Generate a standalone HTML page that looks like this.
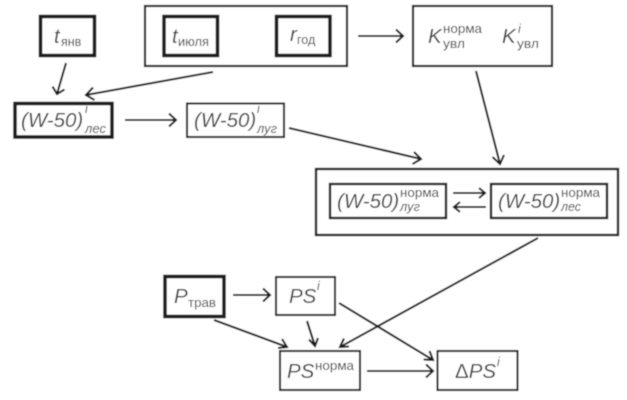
<!DOCTYPE html>
<html>
<head>
<meta charset="utf-8">
<style>
html,body{margin:0;padding:0;background:#fff;}
svg{display:block;}
text{font-family:"Liberation Sans",sans-serif;fill:#3c3c3c;}
.m{font-size:20.5px;font-style:italic;}
.s{font-size:12.5px;}
.si{font-size:12.5px;font-style:italic;}
.b{fill:none;stroke:#1e1e1e;}
.a{fill:none;stroke:#1e1e1e;stroke-width:2.1;}
</style>
</head>
<body>
<svg width="627" height="400" viewBox="0 0 627 400" xmlns="http://www.w3.org/2000/svg">
<defs><filter id="bl" x="0" y="0" width="100%" height="100%"><feGaussianBlur stdDeviation="0.55"/></filter></defs>
<g filter="url(#bl)">
<rect x="0" y="0" width="627" height="400" fill="#fff"/>

<!-- boxes -->
<rect class="b" stroke-width="3.6" x="40.500" y="16.500" width="54" height="39"/>
<rect class="b" stroke-width="2.2" x="145" y="6" width="202" height="60"/>
<rect class="b" stroke-width="3.6" x="164" y="16.500" width="53.500" height="39"/>
<rect class="b" stroke-width="3.6" x="276.500" y="16.500" width="53.500" height="39"/>
<rect class="b" stroke-width="2.2" x="413" y="6" width="139" height="60"/>
<rect class="b" stroke-width="3.6" x="15" y="103.500" width="97" height="33.500"/>
<rect class="b" stroke-width="2.1" x="187" y="103.500" width="97" height="33.500"/>
<rect class="b" stroke-width="2.4" x="316" y="169" width="302" height="66"/>
<rect class="b" stroke-width="2.4" x="330" y="184" width="116" height="34"/>
<rect class="b" stroke-width="2.4" x="491" y="184" width="116" height="34"/>
<rect class="b" stroke-width="3.6" x="165" y="276.500" width="59" height="40"/>
<rect class="b" stroke-width="2.1" x="276" y="277" width="59" height="38"/>
<rect class="b" stroke-width="2.1" x="280" y="351" width="80" height="39"/>
<rect class="b" stroke-width="2.1" x="437.500" y="351" width="80" height="39"/>

<!-- arrows -->
<path class="a" d="M66 63L57 94M52.500 86.500L57 94L64.500 89.500"/>
<path class="a" d="M213 72L86 95M93 87.500L86 95L94.500 100"/>
<path class="a" d="M125 120H176M169 113.500L176 120L169 126.500"/>
<path class="a" d="M289 128L421 159M414 152L421 159L412.500 164"/>
<path class="a" d="M358 36H403M396 29.500L403 36L396 42.500"/>
<path class="a" d="M476 71L500 164M492.500 157L500 164L504 155"/>
<path class="a" d="M453 193H485M479 188L485 193L479 198"/>
<path class="a" d="M486 207H454M460 202L454 207L460 212"/>
<path class="a" d="M538 238L340 347M349 346.500L340 347L344 338.500"/>
<path class="a" d="M233 295H270M263 288.500L270 295L263 301.500"/>
<path class="a" d="M307 321L315 346M309 339.500L315 346L318 338"/>
<path class="a" d="M214 320L287 347M278 348L287 347L282 339"/>
<path class="a" d="M339 303L433 360M423.500 359.500L433 360L429.500 351"/>
<path class="a" d="M367 371H433M426 364.500L433 371L426 377.500"/>

<!-- labels -->
<text class="m" x="54" y="43">t</text><text class="s" x="61" y="46">янв</text>
<text class="m" x="172" y="43">t</text><text class="s" x="178" y="46" textLength="31" lengthAdjust="spacingAndGlyphs">июля</text>
<text class="m" x="290" y="41">r</text><text class="s" x="297" y="44">год</text>

<text class="m" x="428" y="43">K</text>
<text class="s" x="443" y="33" textLength="39" lengthAdjust="spacingAndGlyphs">норма</text><text class="s" x="443" y="48" textLength="22" lengthAdjust="spacingAndGlyphs">увл</text>
<text class="m" x="502" y="43">K</text>
<text class="si" x="518" y="33">i</text><text class="s" x="517" y="48" textLength="22" lengthAdjust="spacingAndGlyphs">увл</text>

<text class="m" x="21" y="127">(W-50)</text>
<text class="si" x="85" y="113">i</text><text class="si" x="85" y="133" textLength="21" lengthAdjust="spacingAndGlyphs">лес</text>
<text class="m" x="194" y="127">(W-50)</text>
<text class="si" x="257" y="113">i</text><text class="si" x="257" y="133" textLength="20" lengthAdjust="spacingAndGlyphs">луг</text>

<text class="m" x="337" y="208">(W-50)</text>
<text class="s" x="400" y="197" textLength="39" lengthAdjust="spacingAndGlyphs">норма</text><text class="si" x="400" y="211" textLength="20" lengthAdjust="spacingAndGlyphs">луг</text>
<text class="m" x="498" y="208">(W-50)</text>
<text class="s" x="561" y="197" textLength="39" lengthAdjust="spacingAndGlyphs">норма</text><text class="si" x="561" y="211" textLength="20" lengthAdjust="spacingAndGlyphs">лес</text>

<text class="m" x="174" y="303">P</text><text class="s" x="188" y="307" textLength="28" lengthAdjust="spacingAndGlyphs">трав</text>
<text class="m" x="289" y="303">PS</text><text class="si" x="317" y="290">i</text>
<text class="m" x="287" y="378">PS</text><text class="s" x="315" y="370" textLength="39" lengthAdjust="spacingAndGlyphs">норма</text>
<text class="m" x="455" y="378"><tspan font-style="normal">Δ</tspan>PS</text><text class="si" x="497" y="366">i</text>
</g>
</svg>
</body>
</html>
